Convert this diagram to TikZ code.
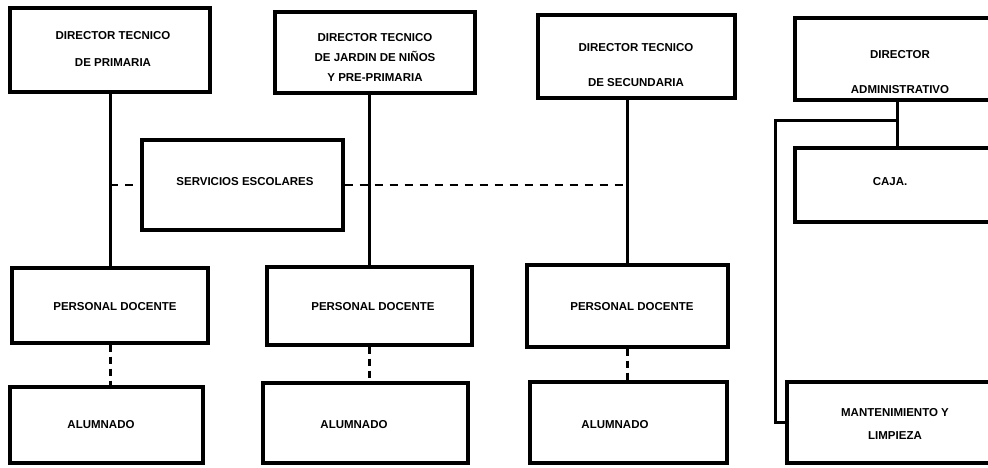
\documentclass[tikz,border=0pt]{standalone}
\usepackage{fontspec}
\setmainfont{Liberation Sans}
\begin{document}
\begin{tikzpicture}[x=1pt,y=-1pt,
  box/.style={draw, line width=3.4pt, inner sep=0pt},
  lbl/.style={font=\fontsize{11.5}{#1}\selectfont\bfseries, align=center, inner sep=0pt},
  lbl/.default=13,
  conn/.style={line width=3pt},
  dsh/.style={line width=2.6pt, dash pattern=on 8pt off 7pt},
  vdsh/.style={line width=3pt, dash pattern=on 7pt off 5pt}]
\useasboundingbox (0,0) rectangle (988,467);
\clip (0,0) rectangle (988,467);
% boxes
\node[box, minimum width=200pt, minimum height=84pt] (b1) at (110,50) {};
\node[box, minimum width=200pt, minimum height=81pt] (b2) at (375,52.5) {};
\node[box, minimum width=197pt, minimum height=83pt] (b3) at (636.5,56.5) {};
\node[box, minimum width=215pt, minimum height=82pt] (b4) at (902.5,59) {};
\node[box, minimum width=201pt, minimum height=90pt] (sv) at (242.5,185) {};
\node[box, minimum width=215pt, minimum height=74pt] (caja) at (902.5,185) {};
\node[box, minimum width=196pt, minimum height=75pt] (p1) at (110,305.5) {};
\node[box, minimum width=205pt, minimum height=78pt] (p2) at (369.5,306) {};
\node[box, minimum width=201pt, minimum height=82pt] (p3) at (627.5,306) {};
\node[box, minimum width=193pt, minimum height=76pt] (a1) at (106.5,425) {};
\node[box, minimum width=205pt, minimum height=80pt] (a2) at (365.5,423) {};
\node[box, minimum width=197pt, minimum height=81pt] (a3) at (628.5,422.5) {};
\node[box, minimum width=223pt, minimum height=81pt] (m) at (898.5,422.5) {};
% labels
\node[lbl=27] (t1) at (113,48.5) {DIRECTOR TECNICO\\DE PRIMARIA};
\node[lbl=20] (t2) at (375,57) {DIRECTOR TECNICO\\DE JARDIN DE NIÑOS\\Y PRE-PRIMARIA};
\node[lbl=35] (t3) at (636,65.5) {DIRECTOR TECNICO\\DE SECUNDARIA};
\node[lbl=35] (t4) at (900,72.5) {DIRECTOR\\ADMINISTRATIVO};
\node[lbl] (tsv) at (245,182) {SERVICIOS ESCOLARES};
\node[lbl] (tcaja) at (890,182) {CAJA.};
\node[lbl] (tp1) at (115,307) {PERSONAL DOCENTE};
\node[lbl] (tp2) at (373,307) {PERSONAL DOCENTE};
\node[lbl] (tp3) at (632,307) {PERSONAL DOCENTE};
\node[lbl] (ta1) at (101,425) {ALUMNADO};
\node[lbl] (ta2) at (354,425) {ALUMNADO};
\node[lbl] (ta3) at (615,425) {ALUMNADO};
\node[lbl=23] (tm) at (895,423.5) {MANTENIMIENTO Y\\LIMPIEZA};
% solid connectors
\draw[conn] (b1.south) -- (p1.north);
\draw[conn] (p2.north |- b2.south) -- (p2.north);
\draw[conn] (p3.north |- b3.south) -- (p3.north);
\coordinate (top4) at ([xshift=-5.5pt]b4.south);
\coordinate (j) at (897,120);
\coordinate (c1) at (775,120);
\draw[conn] (top4) -- (top4 |- caja.north);
\draw[conn] (j) -- (c1) |- (m.west);
% dashed connectors
\coordinate (dl) at (b1.south |- sv.west);
\coordinate (dr) at (p3.north |- sv.east);
\draw[dsh] (dl) -- (sv.west);
\draw[dsh] (sv.east) -- (dr);
\draw[vdsh] (p1.south) -- (p1.south |- a1.north);
\draw[vdsh] (p2.south) -- (p2.south |- a2.north);
\draw[vdsh] (p3.south) -- (p3.south |- a3.north);
\end{tikzpicture}
\end{document}
